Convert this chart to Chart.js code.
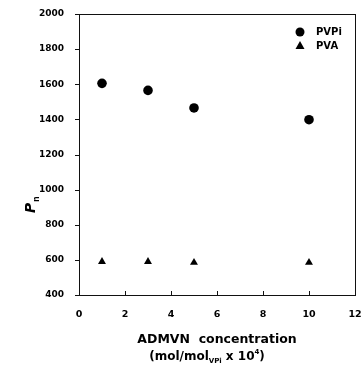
<!DOCTYPE html>
<html>
<head>
<meta charset="utf-8">
<script src="https://cdn.jsdelivr.net/npm/chart.js@4.4.1/dist/chart.umd.min.js"></script>
<style>
  html, body { margin: 0; padding: 0; background: #fff; }
  #wrap { width: 363px; height: 369px; }
</style>
</head>
<body>
<div id="wrap"><canvas id="pnChart" width="363" height="369"></canvas></div>
<script>
// data
const concentrations = [1, 3, 5, 10];
const pvpiValues = [1605, 1565, 1465, 1398];
const pvaValues = [590, 590, 585, 585];
const seriesNames = ['PVPi', 'PVA'];
const xTicks = [0, 2, 4, 6, 8, 10, 12];
const yTicks = [400, 600, 800, 1000, 1200, 1400, 1600, 1800, 2000];

const FONT = '"DejaVu Sans", Arial, sans-serif';

//########## frame, legend and axis titles ##########
const decorPlugin = {
    id: 'decor',
    afterDraw(chart) {
        const ctx = chart.ctx;
        const a = chart.chartArea;
        const xs = chart.scales.x, ys = chart.scales.y;
        ctx.save();
        // box
        ctx.strokeStyle = '#111';
        ctx.lineWidth = 1;
        ctx.strokeRect(Math.round(a.left) + 0.5, Math.round(a.top) + 0.5,
                       Math.round(a.right - a.left), Math.round(a.bottom - a.top));
        // x ticks point inward (up), y ticks outward (left)
        xTicks.forEach(v => {
            const px = Math.round(xs.getPixelForValue(v)) + 0.5;
            ctx.beginPath();
            ctx.moveTo(px, a.bottom);
            ctx.lineTo(px, a.bottom - 4);
            ctx.stroke();
        });
        yTicks.forEach(v => {
            const py = Math.round(ys.getPixelForValue(v)) + 0.5;
            ctx.beginPath();
            ctx.moveTo(a.left, py);
            ctx.lineTo(a.left - 4, py);
            ctx.stroke();
        });

        // legend
        ctx.fillStyle = '#000';
        const lx = 300;
        ctx.beginPath();
        ctx.arc(lx, 32, 4.5, 0, Math.PI * 2);
        ctx.fill();
        ctx.beginPath();
        ctx.moveTo(lx, 41);
        ctx.lineTo(lx + 4.5, 49);
        ctx.lineTo(lx - 4.5, 49);
        ctx.closePath();
        ctx.fill();
        ctx.font = 'bold 10px ' + FONT;
        ctx.textAlign = 'left';
        ctx.textBaseline = 'middle';
        ctx.fillText(seriesNames[0], 316, 32);
        ctx.fillText(seriesNames[1], 316, 46);

        // y title: P with subscript n
        ctx.save();
        ctx.translate(30, 206);
        ctx.rotate(-Math.PI / 2);
        ctx.textBaseline = 'alphabetic';
        ctx.font = 'italic bold 14px ' + FONT;
        ctx.fillText('P', -7, 5);
        ctx.font = 'bold 8px ' + FONT;
        ctx.fillText('n', 4, 9);
        ctx.restore();

        // x title, two lines
        const cx = (a.left + a.right) / 2;
        ctx.textBaseline = 'alphabetic';
        ctx.textAlign = 'center';
        ctx.font = 'bold 12.5px ' + FONT;
        ctx.fillText('ADMVN  concentration', cx, 343);
        // second line with subscript and superscript
        const parts = [
            { t: '(mol/mol', f: 'bold 12px ', dy: 0 },
            { t: 'VPi', f: 'bold 7px ', dy: 3 },
            { t: ' x 10', f: 'bold 12px ', dy: 0 },
            { t: '4', f: 'bold 7px ', dy: -6 },
            { t: ')', f: 'bold 12px ', dy: 0 }
        ];
        let total = 0;
        parts.forEach(p => { ctx.font = p.f + FONT; p.w = ctx.measureText(p.t).width; total += p.w; });
        let x0 = cx - 10 - total / 2;
        ctx.textAlign = 'left';
        parts.forEach(p => {
            ctx.font = p.f + FONT;
            ctx.fillText(p.t, x0, 360 + p.dy);
            x0 += p.w;
        });
        ctx.restore();
    }
};

const ctx = document.getElementById('pnChart').getContext('2d');
new Chart(ctx, {
    type: 'scatter',
    data: {
        datasets: [{
            label: seriesNames[0],
            data: concentrations.map((c, i) => ({ x: c, y: pvpiValues[i] })),
            pointStyle: 'circle',
            pointRadius: 4.8,
            backgroundColor: '#000',
            borderColor: '#000',
            borderWidth: 0
        }, {
            label: seriesNames[1],
            data: concentrations.map((c, i) => ({ x: c, y: pvaValues[i] })),
            pointStyle: 'triangle',
            pointRadius: 4.6,
            backgroundColor: '#000',
            borderColor: '#000',
            borderWidth: 0
        }]
    },
    options: {
        responsive: false,
        animation: false,
        layout: { padding: { top: 14, right: 8, left: 0, bottom: 0 } },
        plugins: {
            legend: { display: false },
            tooltip: { enabled: false }
        },
        scales: {
            x: {
                type: 'linear',
                min: 0,
                max: 12,
                afterBuildTicks: s => { s.ticks = xTicks.map(v => ({ value: v })); },
                afterFit: s => { s.height = 74; s.paddingRight = 0; },
                grid: { display: false },
                border: { display: false },
                ticks: {
                    color: '#000',
                    padding: 6,
                    font: { family: FONT, size: 9.5, weight: 'bold' }
                }
            },
            y: {
                min: 400,
                max: 2000,
                afterBuildTicks: s => { s.ticks = yTicks.map(v => ({ value: v })); },
                afterFit: s => { s.width = 79; },
                grid: { display: false },
                border: { display: false },
                ticks: {
                    color: '#000',
                    padding: 7,
                    callback: v => String(v),
                    font: { family: FONT, size: 9, weight: 'bold' }
                }
            }
        }
    },
    plugins: [decorPlugin]
});
</script>
</body>
</html>
